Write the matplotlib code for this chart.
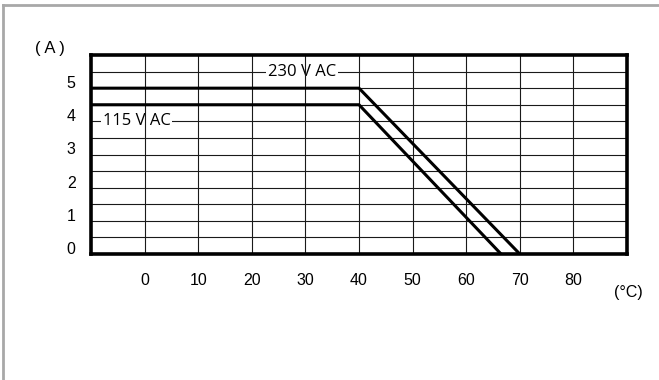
import matplotlib
matplotlib.use('Agg')
import matplotlib.pyplot as plt
from matplotlib.lines import Line2D

# derating curves: ambient temperature (°C) vs load current (A)
temps_230 = [-10, 40, 70]
amps_230 = [5, 5, 0]
temps_115 = [-10, 40, 66.5]
amps_115 = [4.5, 4.5, 0]

x_ticks = [0, 10, 20, 30, 40, 50, 60, 70, 80]
y_ticks = [0, 1, 2, 3, 4, 5]
h_grid = [0.5, 1, 1.5, 2, 2.5, 3, 3.5, 4, 4.5, 5, 5.5]
v_grid = [0, 10, 20, 30, 40, 50, 60, 70, 80]

tick_font = 'Liberation Sans'
label_font = 'Open Sans'

fig = plt.figure(figsize=(6.59, 3.8), dpi=100)
ax = fig.add_axes([91 / 659, 1 - 254 / 380, 536 / 659, 199 / 380])

for y in h_grid:
    ax.axhline(y, color='#1a1a1a', lw=0.8, zorder=1)
for x in v_grid:
    ax.axvline(x, color='#1a1a1a', lw=0.8, zorder=3)

ax.plot(temps_230, amps_230, color='black', lw=2.2, zorder=4, solid_joinstyle='miter')
ax.plot(temps_115, amps_115, color='black', lw=2.2, zorder=4, solid_joinstyle='miter')

box = dict(facecolor='white', edgecolor='none', pad=1.5)
ax.text(29.3, 5.5, '230 V AC', family=label_font, fontsize=12, ha='center', va='center',
        bbox=box, zorder=2)
ax.text(-1.5, 4.0, '115 V AC', family=label_font, fontsize=12, ha='center', va='center',
        bbox=box, zorder=2)

ax.set_xlim(-10, 90)
ax.set_ylim(0, 6)
ax.set_xticks(x_ticks)
ax.set_xticklabels([str(v) for v in x_ticks], family=tick_font, fontsize=11.5)
ax.set_yticks(y_ticks)
ax.set_yticklabels([str(v) for v in y_ticks], family=tick_font, fontsize=11.5, va='baseline')
ax.tick_params(axis='x', length=0, pad=13.5)
ax.tick_params(axis='y', length=0, pad=11)
for s in ax.spines.values():
    s.set_linewidth(2.6)
    s.set_zorder(5)

fig.text(50 / 659, 1 - 49 / 380, '( A )', family=tick_font, fontsize=12, ha='center', va='center')
fig.text(628 / 659, 1 - 292 / 380, '(°C)', family=tick_font, fontsize=11.5, ha='center', va='center')

# grey frame on top and left edge
fig.add_artist(Line2D([3 / 659, 1], [1 - 5 / 380, 1 - 5 / 380], transform=fig.transFigure,
                      color='#a8a8a8', lw=2))
fig.add_artist(Line2D([3 / 659, 3 / 659], [0, 1 - 5 / 380], transform=fig.transFigure,
                      color='#a8a8a8', lw=2))

fig.savefig('out.png', dpi=100)
